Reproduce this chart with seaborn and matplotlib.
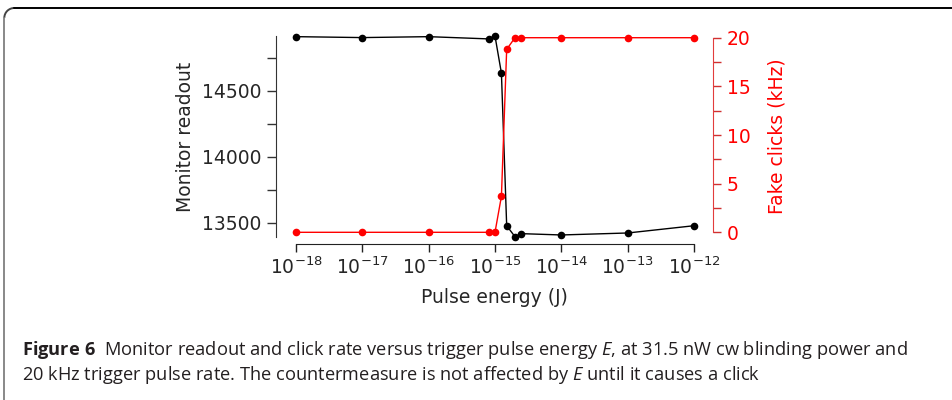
import matplotlib
matplotlib.use('Agg')
import matplotlib.pyplot as plt
import seaborn as sns
from matplotlib import font_manager
from matplotlib.lines import Line2D
from matplotlib.patches import Arc
from matplotlib.ticker import NullLocator, MultipleLocator

# pulse energy (J) and the two measured series
energy = [1e-18, 1e-17, 1e-16, 8e-16, 1e-15, 1.25e-15, 1.5e-15, 2e-15, 2.5e-15, 1e-14, 1e-13, 1e-12]
monitor = [14909, 14902, 14909, 14892, 14914, 14632, 13477, 13394, 13417, 13407, 13422, 13477]
clicks = [0, 0, 0, 0, 0, 3.7, 18.8, 20, 20, 20, 20, 20]
xticks = [1e-18, 1e-17, 1e-16, 1e-15, 1e-14, 1e-13, 1e-12]

sns.set_style('ticks')
plt.rcParams['font.family'] = ['DejaVu Sans']

installed = {f.name for f in font_manager.fontManager.ttflist}
cap_font = 'Liberation Sans Narrow' if 'Liberation Sans Narrow' in installed else 'Open Sans'
plt.rcParams['mathtext.fontset'] = 'custom'
plt.rcParams['mathtext.it'] = cap_font + ':italic'
plt.rcParams['mathtext.bf'] = cap_font + ':bold'
plt.rcParams['mathtext.rm'] = 'DejaVu Sans'

fig = plt.figure(figsize=(9.52, 4), dpi=100)
ax = fig.add_axes([276 / 952, 163 / 400, 436.7 / 952, 201 / 400])
ax2 = ax.twinx()

sns.lineplot(x=energy, y=monitor, ax=ax, color='black', marker='o', markersize=5.5,
             markeredgewidth=0, linewidth=1.0, clip_on=False)
sns.lineplot(x=energy, y=clicks, ax=ax2, color='#ff0000', marker='o', markersize=5.5,
             markeredgewidth=0, linewidth=1.0, clip_on=False)

ax.set_xscale('log')
ax.set_xlim(10 ** -18.3015, 10 ** -11.718)
ax.set_xticks(xticks)
ax.xaxis.set_minor_locator(NullLocator())
ax.set_ylim(13391.6, 14914)
ax.yaxis.set_major_locator(MultipleLocator(500))
ax.yaxis.set_minor_locator(MultipleLocator(250))
ax2.set_ylim(-0.483, 20.175)
ax2.yaxis.set_major_locator(MultipleLocator(5))
ax2.yaxis.set_minor_locator(MultipleLocator(2.5))

for s in ['top', 'right']:
    ax.spines[s].set_visible(False)
for s in ['top', 'left', 'bottom']:
    ax2.spines[s].set_visible(False)
ax.spines['bottom'].set_position(('outward', 5))
ax.spines['bottom'].set_bounds(1e-18, 1e-12)
ax.spines['bottom'].set_color('#222222')
ax.spines['left'].set_color('#333333')
ax2.spines['right'].set_bounds(0, 20)
ax2.spines['right'].set_color('#e23c3c')

fs = 13.5
ax.tick_params(axis='x', which='major', length=6, width=1, color='#222222', labelsize=fs, pad=3)
ax.tick_params(axis='y', which='both', length=6.5, width=1, color='#333333', labelsize=fs, pad=4)
ax2.tick_params(axis='y', which='both', length=6, width=1, color='#d03030', labelcolor='#ff0000',
                labelsize=fs, pad=4)

ax.set_xlabel('Pulse energy (J)', fontsize=fs, labelpad=7)
ax.set_ylabel('Monitor readout', fontsize=fs, labelpad=5)
ax2.set_ylabel('Fake clicks (kHz)', fontsize=fs, color='#ff0000', labelpad=12)

# frame around the figure panel
fig.add_artist(Line2D([14 / 952, 1], [1 - 8 / 400] * 2, transform=fig.transFigure, color='black', lw=1.4))
fig.add_artist(Line2D([4.3 / 952] * 2, [0, 1 - 18 / 400], transform=fig.transFigure, color='#888888', lw=1.4))
fig.add_artist(Arc((14.3 / 952, 1 - 18 / 400), 20 / 952, 20 / 400, theta1=90, theta2=180,
                   transform=fig.transFigure, color='#444444', lw=1.4))

cap_color = '#231f20'
fig.text(22 / 952, 1 - 355 / 400,
         r'$\mathbf{Figure\ 6}$  Monitor readout and click rate versus trigger pulse energy $E$, '
         r'at 31.5 nW cw blinding power and',
         fontsize=13.15, family=cap_font, color=cap_color, va='baseline')
fig.text(22 / 952, 1 - 380 / 400,
         r'20 kHz trigger pulse rate. The countermeasure is not affected by $E$ until it causes a click',
         fontsize=13.15, family=cap_font, color=cap_color, va='baseline')

fig.savefig('out.png', dpi=100)
